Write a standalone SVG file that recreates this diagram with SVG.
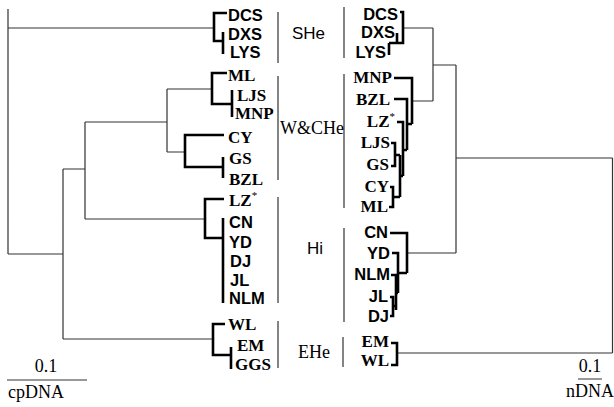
<svg xmlns="http://www.w3.org/2000/svg" width="614" height="407" viewBox="0 0 614 407">
<style>
.bg{fill:#fff}
.thin{fill:none;stroke:#333;stroke-width:1.2}
.thick{fill:none;stroke:#000;stroke-width:2.6}
.sep{fill:none;stroke:#333;stroke-width:1.2}
.s{font-family:"Liberation Sans",Arial,sans-serif;font-weight:bold;font-size:16.5px;fill:#000}
.r{font-family:"Liberation Serif","Times New Roman",serif;font-weight:bold;font-size:17px;fill:#000}
.gs{font-family:"Liberation Sans",Arial,sans-serif;font-size:17px;fill:#000}
.gr{font-family:"Liberation Serif","Times New Roman",serif;font-size:18px;fill:#000}
.e{text-anchor:end}
.m{text-anchor:middle}
.sup{font-size:11px;font-weight:normal}
</style>
<rect class="bg" width="614" height="407"/>
<g id="connectors">
<path class="thin" d="M8,9V254M8,28H214M8,254H63M63,169V339M63,339H213M63,169H85M85,122V219M85,219H205M85,122H167M167,89V152M167,89H212M167,152H185"/>
<path class="thick" d="M227,13H214V41H223M223,32V54"/>
<path class="thick" d="M227,73H212V104H232M232,90V117"/>
<path class="thick" d="M224,135H185V167H223M223,157V178"/>
<path class="thick" d="M224,199H205V238H223M223,218V303"/>
<path class="thick" d="M225,324H213V355H231M231,347V369"/>
<path class="thin" d="M403,28H433M433,28V101M412,101H433M433,65H456M456,65V253M407,253H456M456,158H612.5M612.5,158V353M397,353H612.5"/>
<path class="thick" d="M400,12H403V43H389M397,33V43M389,55V43"/>
<path class="thick" d="M394,78H412V124M394,99H407V150M407,124H412M397,122H403V176M403,150H407M391,143H395V166H391M395,155H400M400,155V197M400,176H403M390,187H393V207H389M393,197H400"/>
<path class="thick" d="M390,233H407V273M392,253H398V293M398,273H407M391,275H396V310M396,293H398M390,297H393V316H390M393,306H396"/>
<path class="thick" d="M391,343H397V365H391"/>
<path class="sep" d="M278,12V63M278,76V180M278,197V303M278,321V368M344,7V58M344,74V208M344,228V322M343,337V367"/>
<path class="thin" stroke="#000" d="M7,380H87M578,379H602"/>
</g>
<g id="left-leaves">
<g id="L-DCS"><text class="s" x="228" y="21">DCS</text></g>
<g id="L-DXS"><text class="s" x="228" y="40">DXS</text></g>
<g id="L-LYS"><text class="s" x="230" y="58">LYS</text></g>
<g id="L-ML"><text class="r" x="228" y="81">ML</text></g>
<g id="L-LJS"><text class="r" x="237" y="101">LJS</text></g>
<g id="L-MNP"><text class="r" x="235" y="119">MNP</text></g>
<g id="L-CY"><text class="r" x="228" y="143">CY</text></g>
<g id="L-GS"><text class="r" x="229" y="164">GS</text></g>
<g id="L-BZL"><text class="r" x="229" y="185">BZL</text></g>
<g id="L-LZ"><text class="r" x="229" y="206">LZ<tspan class="sup" dy="-7">*</tspan></text></g>
<g id="L-CN"><text class="s" x="229" y="228">CN</text></g>
<g id="L-YD"><text class="s" x="229" y="248">YD</text></g>
<g id="L-DJ"><text class="s" x="230" y="267">DJ</text></g>
<g id="L-JL"><text class="s" x="230" y="286">JL</text></g>
<g id="L-NLM"><text class="s" x="229" y="304">NLM</text></g>
<g id="L-WL"><text class="r" x="228" y="330">WL</text></g>
<g id="L-EM"><text class="r" x="237" y="351">EM</text></g>
<g id="L-GGS"><text class="r" x="235" y="370">GGS</text></g>
</g>
<g id="right-leaves">
<g id="R-DCS"><text class="s e" x="398" y="20">DCS</text></g>
<g id="R-DXS"><text class="s e" x="395" y="38">DXS</text></g>
<g id="R-LYS"><text class="s e" x="386" y="58">LYS</text></g>
<g id="R-MNP"><text class="r e" x="392" y="83">MNP</text></g>
<g id="R-BZL"><text class="r e" x="390" y="105">BZL</text></g>
<g id="R-LZ"><text class="r e" x="395" y="127">LZ<tspan class="sup" dy="-7">*</tspan></text></g>
<g id="R-LJS"><text class="r e" x="390" y="148">LJS</text></g>
<g id="R-GS"><text class="r e" x="389" y="170">GS</text></g>
<g id="R-CY"><text class="r e" x="389" y="192">CY</text></g>
<g id="R-ML"><text class="r e" x="388" y="212">ML</text></g>
<g id="R-CN"><text class="s e" x="388" y="238">CN</text></g>
<g id="R-YD"><text class="s e" x="390" y="259">YD</text></g>
<g id="R-NLM"><text class="s e" x="390" y="280">NLM</text></g>
<g id="R-JL"><text class="s e" x="388" y="302">JL</text></g>
<g id="R-DJ"><text class="s e" x="389" y="322">DJ</text></g>
<g id="R-EM"><text class="r e" x="389" y="347">EM</text></g>
<g id="R-WL"><text class="r e" x="389" y="366">WL</text></g>
</g>
<g id="groups">
<g id="G-SHe"><text class="gs" x="292" y="39">SHe</text></g>
<g id="G-WCHe"><text class="gr" x="280" y="134">W&amp;CHe</text></g>
<g id="G-Hi"><text class="gs" x="307" y="254">Hi</text></g>
<g id="G-EHe"><text class="gr" x="298" y="358">EHe</text></g>
</g>
<g id="scales">
<g id="scale-cp"><text class="gr m" x="46" y="372">0.1</text><text class="gr m" x="36" y="398">cpDNA</text></g>
<g id="scale-n"><text class="gr m" x="590" y="372">0.1</text><text class="gr m" x="590" y="397">nDNA</text></g>
</g>
</svg>
